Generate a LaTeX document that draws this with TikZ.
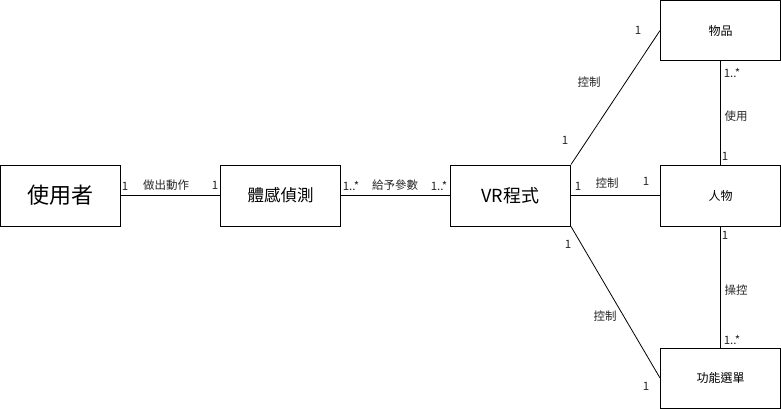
\documentclass[tikz,border=0pt]{standalone}
\usepackage{fontspec}
\setmainfont{Noto Sans CJK TC}
\begin{document}
\begin{tikzpicture}[x=1pt,y=-1pt,
  box/.style={draw=black,line width=1pt,minimum width=120pt,inner sep=0pt,text=black},
  lbl/.style={font=\fontsize{11.5}{13}\selectfont,text=black!85,inner sep=0pt},
  conn/.style={draw=black,line width=0.8pt}]
\useasboundingbox (0,0) rectangle (781,409);
\node[box,minimum height=61pt,font=\fontsize{22}{26}\selectfont] (user) at (60.5,195.5) {使用者};
\node[box,minimum height=61pt,font=\fontsize{16.5}{19}\selectfont] (sense) at (280.5,195.5) {體感偵測};
\node[box,minimum height=61pt,font=\fontsize{18}{21}\selectfont] (vr) at (510.5,195.5) {VR程式};
\node[box,minimum height=59.5pt,font=\fontsize{12}{14}\selectfont] (item) at (720.5,30.5) {物品};
\node[box,minimum height=61pt,font=\fontsize{12}{14}\selectfont] (person) at (720.5,195.5) {人物};
\node[box,minimum height=60pt,font=\fontsize{12}{14}\selectfont] (menu) at (720.5,378) {功能選單};
\draw[conn] (user.east) -- (sense.west);
\draw[conn] (sense.east) -- (vr.west);
\draw[conn] (vr.east) -- (person.west);
\draw[conn] (vr.north east) -- (item.west);
\draw[conn] (vr.south east) -- (menu.west);
\draw[conn] (item.south) -- (person.north);
\draw[conn] (person.south) -- (menu.north);
% labels
\node[lbl] (l1) at (125,186) {1};
\node[lbl] (l2) at (166,185) {做出動作};
\node[lbl] (l3) at (215,185) {1};
\node[lbl] (l4) at (351,186) {1..*};
\node[lbl] (l5) at (395,185) {給予參數};
\node[lbl] (l6) at (439,186) {1..*};
\node[lbl] (l7) at (578,186) {1};
\node[lbl] (l8) at (607,183) {控制};
\node[lbl] (l9) at (646,181) {1};
\node[lbl] (l10) at (638,30) {1};
\node[lbl] (l11) at (589,82) {控制};
\node[lbl] (l12) at (565,140) {1};
\node[lbl] (l13) at (568,244) {1};
\node[lbl] (l14) at (605,316) {控制};
\node[lbl] (l15) at (646,386) {1};
\node[lbl] (l16) at (732,73) {1..*};
\node[lbl] (l17) at (736,116) {使用};
\node[lbl] (l18) at (725,156) {1};
\node[lbl] (l19) at (725,235) {1};
\node[lbl] (l20) at (736,290) {操控};
\node[lbl] (l21) at (732,340) {1..*};
\end{tikzpicture}
\end{document}
